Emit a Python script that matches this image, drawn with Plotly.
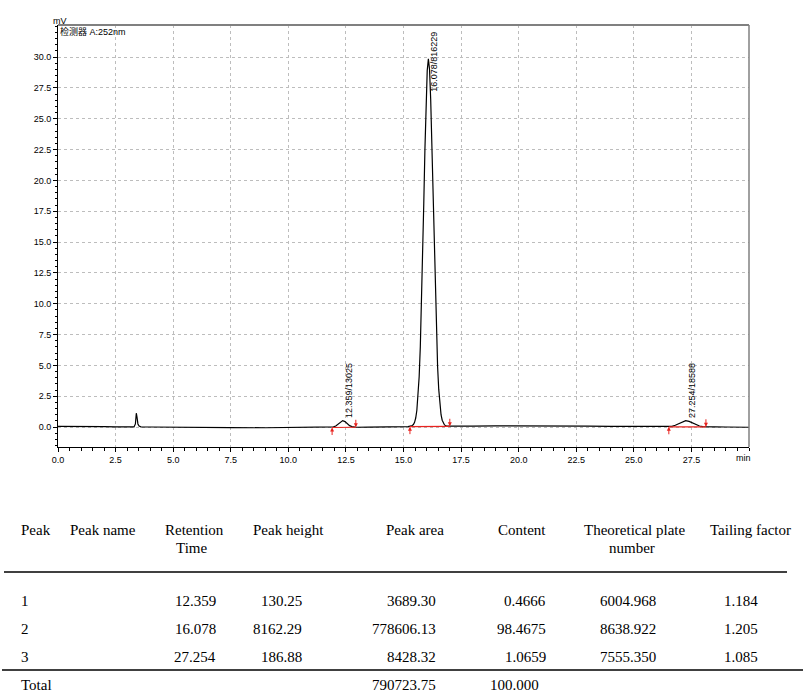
import plotly.graph_objects as go

# ---------------- data ----------------
time_min = [0.0, 0.5, 1.0, 1.5, 2.0, 2.5, 3.0, 3.30, 3.36, 3.40, 3.43, 3.47, 3.52, 3.6,
            4.0, 5.0, 6.0, 7.5, 9.0, 10.0, 11.0, 11.7,
            11.86, 11.96, 12.06, 12.16, 12.26, 12.36, 12.46, 12.56, 12.66, 12.76, 12.86, 12.96,
            13.5, 14.5, 15.2,
            15.38, 15.43, 15.48, 15.53, 15.58, 15.63, 15.68, 15.73, 15.78, 15.83, 15.88, 15.93,
            15.98, 16.03,
            16.08, 16.13, 16.18, 16.23, 16.28, 16.33, 16.38, 16.43, 16.48, 16.53, 16.58, 16.63,
            16.68, 16.73, 16.78, 16.88,
            17.2, 18.0, 19.0, 20.0, 21.0, 22.0, 23.0, 24.0, 25.0, 26.0, 26.5,
            26.65, 26.8, 26.95, 27.1, 27.25, 27.4, 27.55, 27.7, 27.85, 28.0, 28.2,
            28.5, 29.0, 30.0]
signal_mv = [0.05, 0.06, 0.08, 0.07, 0.04, 0.02, 0.01, 0.01, 0.25, 1.12, 0.80, 0.25, 0.08, 0.02,
             0.0, -0.03, -0.04, -0.05, -0.06, -0.05, -0.04, -0.03,
             -0.02, 0.01, 0.08, 0.22, 0.42, 0.52, 0.44, 0.27, 0.11, 0.03, -0.01, -0.02,
             -0.01, 0.0, 0.03,
             0.12, 0.20, 0.38, 0.73, 1.36, 2.42, 4.08, 6.5, 9.73, 13.7, 18.1, 22.5,
             26.3, 28.9,
             29.85, 29.0, 26.6, 23.1, 18.95, 14.7, 10.8, 7.5, 4.9, 3.05, 1.8, 1.0,
             0.55, 0.3, 0.17, 0.07,
             0.06, 0.07, 0.09, 0.10, 0.11, 0.10, 0.08, 0.06, 0.04, 0.02, 0.02,
             0.06, 0.14, 0.28, 0.43, 0.52, 0.46, 0.32, 0.17, 0.08, 0.04, 0.02,
             0.01, 0.0, -0.02]

peak_labels = ["12.359/13025", "16.078/816229", "27.254/18588"]
peak_times = [12.359, 16.078, 27.254]
peak_tops = [0.52, 29.85, 0.52]

int_start = [11.90, 15.28, 26.52]
int_end = [12.93, 17.01, 28.13]
int_start_y = [-0.04, 0.03, 0.02]
int_end_y = [-0.02, 0.06, 0.02]

y_tick_vals = [0.0, 2.5, 5.0, 7.5, 10.0, 12.5, 15.0, 17.5, 20.0, 22.5, 25.0, 27.5, 30.0]
x_tick_vals = [0.0, 2.5, 5.0, 7.5, 10.0, 12.5, 15.0, 17.5, 20.0, 22.5, 25.0, 27.5]

tbl_peak = ["1", "2", "3"]
tbl_rt = ["12.359", "16.078", "27.254"]
tbl_height = ["130.25", "8162.29", "186.88"]
tbl_area = ["3689.30", "778606.13", "8428.32"]
tbl_content = ["0.4666", "98.4675", "1.0659"]
tbl_plates = ["6004.968", "8638.922", "7555.350"]
tbl_tailing = ["1.184", "1.205", "1.085"]
total_area = "790723.75"
total_content = "100.000"

# ---------------- layout helpers ----------------
W, H = 806, 700
ML, MR, MT, MB = 58, 57, 25, 253
PW, PH = W - ML - MR, H - MT - MB


def px(x):
    return (x - ML) / PW


def py(y):
    return (H - MB - y) / PH


SANS = "Arial, Liberation Sans, Noto Sans CJK SC, sans-serif"
SERIF = "Times New Roman, Liberation Serif, serif"

fig = go.Figure()

fig.add_trace(go.Scatter(x=time_min, y=signal_mv, mode="lines",
                         line=dict(color="black", width=1.2), hoverinfo="skip",
                         showlegend=False))

# integration baselines (red)
for s, e, sy, ey in zip(int_start, int_end, int_start_y, int_end_y):
    fig.add_trace(go.Scatter(x=[s, e], y=[sy, ey], mode="lines",
                             line=dict(color="#e8231f", width=1.2), hoverinfo="skip",
                             showlegend=False))

annotations = []
for s, e, sy, ey in zip(int_start, int_end, int_start_y, int_end_y):
    annotations.append(dict(x=s, y=sy, xref="x", yref="y", ax=0, ay=9, text="",
                            showarrow=True, arrowhead=2, arrowsize=0.8, arrowwidth=1,
                            arrowcolor="#e8231f"))
    annotations.append(dict(x=e, y=ey, xref="x", yref="y", ax=0, ay=-9, text="",
                            showarrow=True, arrowhead=2, arrowsize=0.8, arrowwidth=1,
                            arrowcolor="#e8231f"))

# peak labels
for lbl, t, top in zip(peak_labels, peak_times, peak_tops):
    if top > 25:
        annotations.append(dict(x=t + 0.24, y=py(30), xref="x", yref="paper", text=lbl,
                                textangle=-90, showarrow=False, xanchor="center",
                                yanchor="top", font=dict(family=SANS, size=9, color="black")))
    else:
        annotations.append(dict(x=t + 0.27, y=top, xref="x", yref="y", text=lbl,
                                textangle=-90, showarrow=False, xanchor="center",
                                yanchor="bottom", yshift=1,
                                font=dict(family=SANS, size=9, color="black")))

annotations.append(dict(x=px(60), y=py(21), xref="paper", yref="paper", text="mV",
                        showarrow=False, xanchor="center", yanchor="middle",
                        font=dict(family=SANS, size=9, color="black")))
annotations.append(dict(x=px(58), y=py(31), xref="paper", yref="paper", text="检测器 A:252nm",
                        showarrow=False, xanchor="left", yanchor="middle",
                        font=dict(family=SANS, size=9, color="black")))
annotations.append(dict(x=px(743), y=py(458), xref="paper", yref="paper", text="min",
                        showarrow=False, xanchor="center", yanchor="middle",
                        font=dict(family=SANS, size=9, color="black")))


# ---------------- table ----------------
def cell(text, x, y, anchor):
    annotations.append(dict(x=px(x), y=py(y), xref="paper", yref="paper", text=text,
                            showarrow=False, xanchor=anchor, yanchor="middle",
                            align="center",
                            font=dict(family=SERIF, size=15, color="black")))


hdr_y = 530
hdr2_y = 548
cell("Peak", 19, hdr_y, "left")
cell("Peak name", 68, hdr_y, "left")
cell("Retention", 194, hdr_y, "center")
cell("Time", 191, hdr2_y, "center")
cell("Peak height", 288, hdr_y, "center")
cell("Peak area", 415, hdr_y, "center")
cell("Content", 522, hdr_y, "center")
cell("Theoretical plate", 635, hdr_y, "center")
cell("number", 632, hdr2_y, "center")
cell("Tailing factor", 750, hdr_y, "center")

row_ys = [601, 629, 657]
for i, ry in enumerate(row_ys):
    cell(tbl_peak[i], 19, ry, "left")
    cell(tbl_rt[i], 218, ry, "right")
    cell(tbl_height[i], 304, ry, "right")
    cell(tbl_area[i], 438, ry, "right")
    cell(tbl_content[i], 548, ry, "right")
    cell(tbl_plates[i], 658, ry, "right")
    cell(tbl_tailing[i], 760, ry, "right")

cell("Total", 19, 685, "left")
cell(total_area, 438, 685, "right")
cell(total_content, 541, 685, "right")

shapes = [
    # top and right frame (gray)
    dict(type="line", xref="paper", yref="paper", x0=0, x1=1, y0=1, y1=1,
         line=dict(color="#808080", width=2)),
    dict(type="line", xref="paper", yref="paper", x0=1, x1=1, y0=0, y1=1,
         line=dict(color="#808080", width=1.5)),
    # table rules
    dict(type="line", xref="paper", yref="paper", x0=px(4), x1=px(787), y0=py(572), y1=py(572),
         line=dict(color="black", width=1.5)),
    dict(type="line", xref="paper", yref="paper", x0=px(2), x1=px(803), y0=py(670), y1=py(670),
         line=dict(color="black", width=1.5)),
]

fig.update_layout(
    width=W, height=H,
    margin=dict(l=ML, r=MR, t=MT, b=MB),
    paper_bgcolor="white", plot_bgcolor="white",
    showlegend=False,
    annotations=annotations,
    shapes=shapes,
    xaxis=dict(range=[0, 30], tickvals=x_tick_vals,
               ticktext=[f"{v:.1f}" for v in x_tick_vals],
               ticks="outside", ticklen=4, tickcolor="black", tickwidth=1,
               showline=True, linecolor="black", linewidth=1,
               showgrid=True, gridcolor="#bdbdbd", griddash="dot", gridwidth=1,
               zeroline=False,
               minor=dict(dtick=0.5, tick0=0, ticks="outside", ticklen=2.5,
                          tickcolor="black", showgrid=False),
               tickfont=dict(family=SANS, size=9, color="black")),
    yaxis=dict(range=[-1.62, 32.6], tickvals=y_tick_vals,
               ticktext=[f"{v:.1f}" for v in y_tick_vals],
               ticks="outside", ticklen=4, tickcolor="black", tickwidth=1,
               showline=True, linecolor="black", linewidth=1,
               showgrid=True, gridcolor="#bdbdbd", griddash="dot", gridwidth=1,
               zeroline=False,
               minor=dict(dtick=0.5, tick0=0, ticks="outside", ticklen=2.5,
                          tickcolor="black", showgrid=False),
               tickfont=dict(family=SANS, size=9, color="black")),
)

fig.write_html("out.html")
